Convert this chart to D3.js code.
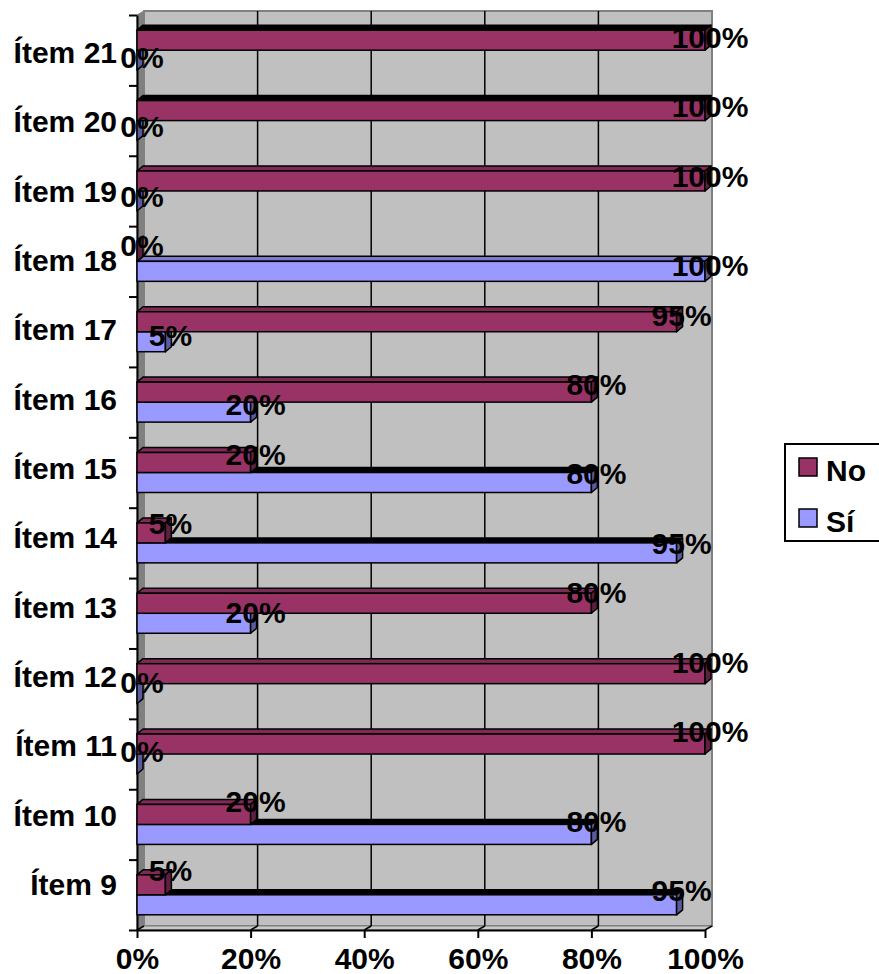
<!DOCTYPE html>
<html>
<head>
<meta charset="utf-8">
<script src="https://cdn.jsdelivr.net/npm/d3@7"></script>
<style>
  body { margin: 0; background: #fff; }
  text { font-family: Arial, "Liberation Sans", sans-serif; font-weight: bold; }
</style>
</head>
<body>
<div id="mychart"></div>
<script>
// values (percent)
var categories = ["Ítem 9", "Ítem 10", "Ítem 11", "Ítem 12", "Ítem 13", "Ítem 14", "Ítem 15",
                  "Ítem 16", "Ítem 17", "Ítem 18", "Ítem 19", "Ítem 20", "Ítem 21"];
var noValues = [5, 20, 100, 100, 80, 5, 20, 80, 95, 0, 100, 100, 100];
var siValues = [95, 80, 0, 0, 20, 95, 80, 20, 5, 100, 0, 0, 0];
var seriesNames = ["No", "Sí"];
var xTickValues = [0, 20, 40, 60, 80, 100];

// excel draws some top faces solid black, copy that
var blackTops = ["Ítem 21|No", "Ítem 20|No", "Ítem 15|Sí", "Ítem 14|Sí", "Ítem 10|Sí", "Ítem 9|Sí"];

var colors = {
    "No": {front: "#993366", top: "#7d2a55", side: "#5e2040"},
    "Sí": {front: "#9999FF", top: "#7b7bd0", side: "#5a5a9c"}
};

var svg = d3.select("#mychart").append("svg")
    .attr("width", 879)
    .attr("height", 974);

var x = d3.scaleLinear()
    .domain([0, 100])
    .range([137, 705]);

var plotTop = 15, plotBottom = 930;

var y = d3.scaleBand()
    .domain(categories.slice().reverse())
    .range([plotTop, plotBottom]);

var inner = d3.scaleBand()
    .domain(seriesNames)
    .range([0, y.bandwidth()])
    .paddingOuter(0.76);

var wallDx = 7, wallDy = -4;
var barDx = 6, barDy = -5;

// walls
svg.append("rect")
    .attr("x", x(0) + wallDx)
    .attr("y", plotTop + wallDy)
    .attr("width", x(100) - x(0))
    .attr("height", plotBottom - plotTop)
    .attr("fill", "#c0c0c0")
    .attr("stroke", "#808080")
    .attr("stroke-width", 2);

svg.append("path")
    .attr("d", "M" + x(0) + "," + plotTop + "L" + (x(0) + wallDx) + "," + (plotTop + wallDy) +
               "L" + (x(0) + wallDx) + "," + (plotBottom + wallDy) + "L" + x(0) + "," + plotBottom + "Z")
    .attr("fill", "#808080")
    .attr("stroke", "#808080");

svg.append("path")
    .attr("d", "M" + x(0) + "," + plotBottom + "L" + (x(0) + wallDx) + "," + (plotBottom + wallDy) +
               "L" + (x(100) + wallDx) + "," + (plotBottom + wallDy) + "L" + x(100) + "," + plotBottom + "Z")
    .attr("fill", "#c8c8c8")
    .attr("stroke", "#808080");

// gridlines on back wall + floor
svg.selectAll(".grid")
    .data(xTickValues.slice(1, -1))
    .enter().append("line")
    .attr("x1", function(d) { return x(d) + wallDx; })
    .attr("x2", function(d) { return x(d) + wallDx; })
    .attr("y1", plotTop + wallDy)
    .attr("y2", plotBottom + wallDy)
    .attr("stroke", "black")
    .attr("stroke-width", 1.5);

svg.selectAll(".floorgrid")
    .data(xTickValues)
    .enter().append("line")
    .attr("x1", function(d) { return x(d); })
    .attr("x2", function(d) { return x(d) + wallDx; })
    .attr("y1", plotBottom)
    .attr("y2", plotBottom + wallDy)
    .attr("stroke", "black")
    .attr("stroke-width", 1.5);

// axes
var yIndex = d3.scaleLinear().domain([0, categories.length]).range([plotBottom, plotTop]);

var yAxis = svg.append("g")
    .attr("transform", "translate(" + x(0) + ",0)")
    .call(d3.axisLeft(yIndex).tickValues(d3.range(categories.length + 1)).tickFormat("").tickSize(8).tickSizeOuter(0));
yAxis.selectAll("path, line").attr("stroke", "black").attr("stroke-width", 2);

var xAxis = svg.append("g")
    .attr("transform", "translate(0," + plotBottom + ")")
    .call(d3.axisBottom(x).tickValues(xTickValues).tickFormat(function(d) { return d + "%"; }).tickSize(8).tickSizeOuter(0));
xAxis.selectAll("path, line").attr("stroke", "black").attr("stroke-width", 2);
xAxis.selectAll("text")
    .attr("y", 39)
    .attr("dy", 0)
    .attr("font-size", "30px")
    .attr("font-family", "Arial, 'Liberation Sans', sans-serif")
    .attr("font-weight", "bold")
    .attr("fill", "black");

// bar records, Sí drawn first so No covers its top face
var bars = [];
categories.forEach(function(c, i) {
    bars.push({cat: c, series: "Sí", value: siValues[i], k: categories.length - 1 - i});
    bars.push({cat: c, series: "No", value: noValues[i], k: categories.length - 1 - i});
});

var bar = svg.selectAll(".bar")
    .data(bars)
    .enter().append("g")
    .attr("class", "bar");

function barTop(d) { return y(d.cat) + inner(d.series); }

bar.append("path")
    .attr("d", function(d) {
        var x0 = x(0), x1 = x(d.value), y0 = barTop(d);
        return "M" + x0 + "," + y0 + "L" + (x0 + barDx) + "," + (y0 + barDy) +
               "L" + (x1 + barDx) + "," + (y0 + barDy) + "L" + x1 + "," + y0 + "Z";
    })
    .attr("fill", function(d) {
        return blackTops.indexOf(d.cat + "|" + d.series) >= 0 ? "black" : colors[d.series].top;
    })
    .attr("stroke", "black")
    .attr("stroke-width", 1.5)
    .attr("stroke-linejoin", "round");

bar.append("rect")
    .attr("x", x(0))
    .attr("y", barTop)
    .attr("width", function(d) { return x(d.value) - x(0); })
    .attr("height", inner.bandwidth())
    .attr("fill", function(d) { return colors[d.series].front; })
    .attr("stroke", "black")
    .attr("stroke-width", 1.5);

bar.append("path")
    .attr("d", function(d) {
        var x1 = x(d.value), y0 = barTop(d), h = inner.bandwidth();
        return "M" + x1 + "," + y0 + "L" + (x1 + barDx) + "," + (y0 + barDy) +
               "L" + (x1 + barDx) + "," + (y0 + h + barDy) + "L" + x1 + "," + (y0 + h) + "Z";
    })
    .attr("fill", function(d) { return colors[d.series].side; })
    .attr("stroke", "black")
    .attr("stroke-width", 1.5)
    .attr("stroke-linejoin", "round");

// category labels (they drift a bit because of the perspective)
svg.selectAll(".catlabel")
    .data(categories)
    .enter().append("text")
    .attr("class", "catlabel")
    .attr("x", 117)
    .attr("y", function(d, i) {
        var k = categories.length - 1 - i;
        return y(d) + y.bandwidth() / 2 + 13 - 13 * k / 12;
    })
    .attr("text-anchor", "end")
    .attr("font-size", "30px")
    .attr("fill", "black")
    .text(function(d) { return d; });

// data labels
svg.selectAll(".vallabel")
    .data(bars)
    .enter().append("text")
    .attr("class", "vallabel")
    .attr("x", function(d) { return x(d.value) + 5; })
    .attr("y", function(d) {
        var c = barTop(d) + inner.bandwidth() / 2;
        return c - (3 + 11 * d.k / 12) + 10.5;
    })
    .attr("text-anchor", "middle")
    .attr("font-size", "30px")
    .attr("fill", "black")
    .text(function(d) { return d.value + "%"; });

// legend
var legend = svg.append("g")
    .attr("transform", "translate(785,444)");

legend.append("rect")
    .attr("width", 100)
    .attr("height", 97)
    .attr("fill", "white")
    .attr("stroke", "black")
    .attr("stroke-width", 2);

var item = legend.selectAll(".item")
    .data(seriesNames)
    .enter().append("g")
    .attr("transform", function(d, i) { return "translate(0," + (14 + i * 51) + ")"; });

item.append("rect")
    .attr("x", 14)
    .attr("width", 18)
    .attr("height", 18)
    .attr("fill", function(d) { return colors[d].front; })
    .attr("stroke", "black")
    .attr("stroke-width", 1.5);

item.append("text")
    .attr("x", 41)
    .attr("y", 23)
    .attr("font-size", "30px")
    .attr("fill", "black")
    .text(function(d) { return d; });
</script>
</body>
</html>
